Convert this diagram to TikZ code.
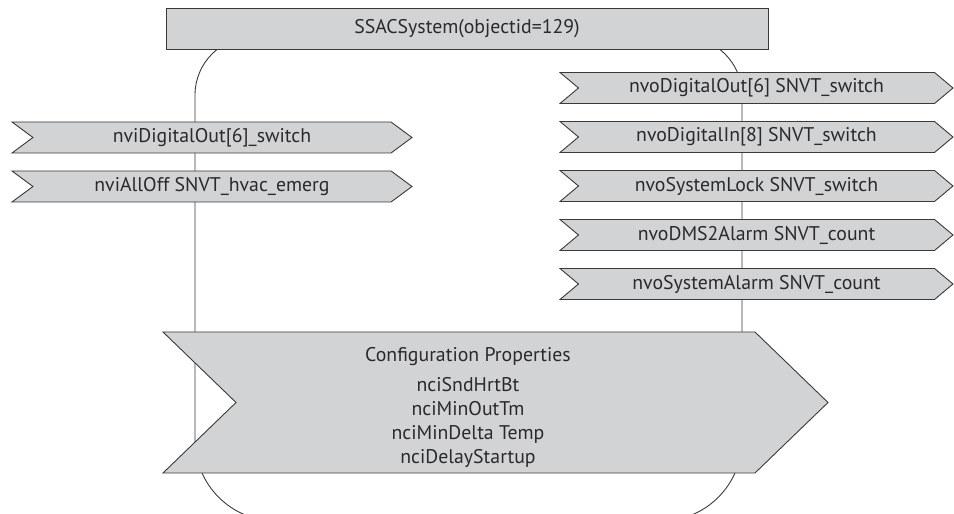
\documentclass[tikz,border=0pt]{standalone}
\usepackage{fontspec}
\setmainfont{PT Sans}
\usetikzlibrary{positioning, shapes.symbols}
\definecolor{boxgray}{HTML}{D2D3D5}
\definecolor{linegray}{HTML}{3A3A3A}
\definecolor{textgray}{HTML}{2A2A2A}
\newcommand{\pinfont}{\fontsize{19.8}{23}\selectfont}
\tikzset{
  box/.style={draw=linegray, fill=boxgray, line width=0.9pt, minimum width=602pt, minimum height=41pt, inner sep=0pt, outer sep=0pt, text=textgray, font=\pinfont},
  pinbox/.style={signal, signal from=west, signal to=east, draw=linegray, fill=boxgray, line width=0.9pt, minimum height=31pt, inner sep=0pt, outer sep=0pt, text=textgray, font=\pinfont},
  inpin/.style={pinbox, minimum width=400pt, signal pointer angle=73},
  outpin/.style={pinbox, minimum width=393pt, signal pointer angle=80},
  cfgbox/.style={pinbox, minimum width=665pt, minimum height=141pt, signal pointer angle=88},
  cfgline/.style={anchor=base, inner sep=0pt, text=textgray, font=\pinfont},
  frame/.style={draw=linegray, line width=0.9pt},
}

\begin{document}
\begin{tikzpicture}[x=1pt, y=1pt, node distance=18pt]
    \useasboundingbox (0,0) rectangle (954,514);
    % rounded body behind the pins
    \coordinate (fl) at (195,200);
    \coordinate (fr) at (742,200);
    \draw[frame, rounded corners=58pt] (fl) -- (195,477) -- (742,477) -- (fr);
    \draw[frame, rounded corners=81pt] (fl) -- (195,-7) -- (742,-7) -- (fr);
    \node[box] (sys) at (467,485.5) {SSACSystem(objectid=129)};
    % inputs
    \node[inpin] (inDO) at (212,376.5) {nviDigitalOut[6]\_switch};
    \node[inpin, below=of inDO] (inOff) {nviAllOff SNVT\_hvac\_emerg};
    % outputs
    \node[outpin] (outDO) at (756.5,426) {nvoDigitalOut[6] SNVT\_switch};
    \node[outpin, below=of outDO] (outDI) {nvoDigitalIn[8] SNVT\_switch};
    \node[outpin, below=of outDI] (outLock) {nvoSystemLock SNVT\_switch};
    \node[outpin, below=of outLock] (outDMS) {nvoDMS2Alarm SNVT\_count};
    \node[outpin, below=of outDMS] (outAlarm) {nvoSystemAlarm SNVT\_count};
    % configuration properties
    \node[cfgbox] (cfg) at (495.5,111.5) {};
    \node[cfgline] (cfgHead) at (468,152) {Configuration Properties};
    \node[cfgline] (cfgHrt) at (468,122) {nciSndHrtBt};
    \node[cfgline] (cfgOut) at (468,98) {nciMinOutTm};
    \node[cfgline] (cfgDelta) at (468,74) {nciMinDelta Temp};
    \node[cfgline] (cfgStart) at (468,50) {nciDelayStartup};
  \end{tikzpicture}
\end{document}
